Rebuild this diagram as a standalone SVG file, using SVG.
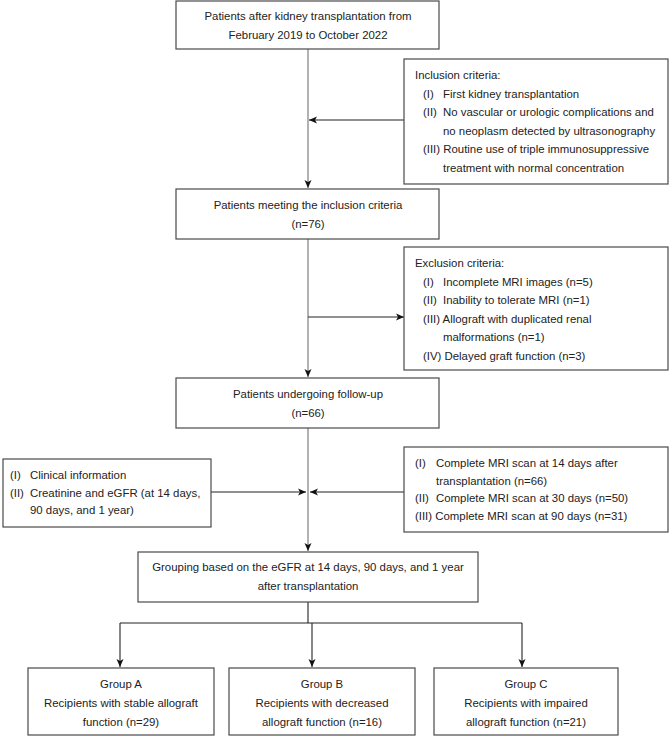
<svg xmlns="http://www.w3.org/2000/svg" width="672" height="738" viewBox="0 0 672 738">
<defs>
<marker id="ah" markerWidth="8" markerHeight="8" refX="8" refY="4" orient="auto" markerUnits="userSpaceOnUse">
<path d="M0,0.5 L8,4 L0,7.5 L2,4 Z" fill="#111"/>
</marker>
</defs>
<style>
.box{fill:#fff;stroke:#4a4a4a;stroke-width:1.2}
text{font-family:"Liberation Sans",Arial,sans-serif;font-size:11.4px;fill:#222}
.c{text-anchor:middle}
.trunk{stroke:#999;stroke-width:1.5;fill:none}
.blk{stroke:#222;stroke-width:1.1;fill:none}
</style>
<rect width="672" height="738" fill="#fff"/>
<g id="connectors">
<line class="trunk" x1="308" y1="49" x2="308" y2="188" marker-end="url(#ah)"/>
<line class="blk" x1="404" y1="120" x2="309" y2="120" marker-end="url(#ah)"/>
<line class="trunk" x1="308" y1="239" x2="308" y2="377" marker-end="url(#ah)"/>
<line class="blk" x1="308" y1="317" x2="404" y2="317" marker-end="url(#ah)"/>
<line class="trunk" x1="308" y1="428" x2="308" y2="551" marker-end="url(#ah)"/>
<line class="blk" x1="211" y1="492" x2="306" y2="492" marker-end="url(#ah)"/>
<line class="blk" x1="404" y1="492" x2="310" y2="492" marker-end="url(#ah)"/>
<polyline class="blk" points="308,602 308,623"/>
<line class="blk" x1="120" y1="623" x2="522" y2="623"/>
<line class="blk" x1="120" y1="623" x2="120" y2="667" marker-end="url(#ah)"/>
<line class="blk" x1="312" y1="623" x2="312" y2="667" marker-end="url(#ah)"/>
<line class="blk" x1="522" y1="623" x2="522" y2="667" marker-end="url(#ah)"/>
</g>
<g id="start">
<rect class="box" x="176" y="1" width="263" height="48"/>
<text class="c" x="308" y="20">Patients after kidney transplantation from</text>
<text class="c" x="308" y="39">February 2019 to October 2022</text>
</g>
<g id="inclusion">
<rect class="box" x="404" y="59" width="264" height="125"/>
<text x="415" y="79">Inclusion criteria:</text>
<text x="423" y="97.5">(I)</text><text x="443" y="97.5">First kidney transplantation</text>
<text x="423" y="116">(II)</text><text x="443" y="116">No vascular or urologic complications and</text>
<text x="443" y="134.5">no neoplasm detected by ultrasonography</text>
<text x="423" y="153">(III) Routine use of triple immunosuppressive</text>
<text x="443" y="171.5">treatment with normal concentration</text>
</g>
<g id="included">
<rect class="box" x="176" y="189" width="263" height="50"/>
<text class="c" x="308" y="209">Patients meeting the inclusion criteria</text>
<text class="c" x="308" y="228">(n=76)</text>
</g>
<g id="exclusion">
<rect class="box" x="404" y="247" width="264" height="123"/>
<text x="415" y="267">Exclusion criteria:</text>
<text x="423" y="285.5">(I)</text><text x="443" y="285.5">Incomplete MRI images (n=5)</text>
<text x="423" y="304">(II)</text><text x="443" y="304">Inability to tolerate MRI (n=1)</text>
<text x="423" y="322.5">(III) Allograft with duplicated renal</text>
<text x="443" y="341">malformations (n=1)</text>
<text x="423" y="359.5">(IV) Delayed graft function (n=3)</text>
</g>
<g id="followup">
<rect class="box" x="176" y="378" width="263" height="50"/>
<text class="c" x="308" y="398">Patients undergoing follow-up</text>
<text class="c" x="308" y="417">(n=66)</text>
</g>
<g id="clinical">
<rect class="box" x="3" y="459" width="208" height="68"/>
<text x="10" y="479">(I)</text><text x="30" y="479">Clinical information</text>
<text x="10" y="496.5">(II)</text><text x="30" y="496.5">Creatinine and eGFR (at 14 days,</text>
<text x="30" y="514">90 days, and 1 year)</text>
</g>
<g id="mri">
<rect class="box" x="404" y="447" width="264" height="85"/>
<text x="415" y="467">(I)</text><text x="436" y="467">Complete MRI scan at 14 days after</text>
<text x="436" y="484.5">transplantation (n=66)</text>
<text x="415" y="502">(II)</text><text x="436" y="502">Complete MRI scan at 30 days (n=50)</text>
<text x="415" y="519.5">(III) Complete MRI scan at 90 days (n=31)</text>
</g>
<g id="grouping">
<rect class="box" x="138" y="552" width="340" height="50"/>
<text class="c" x="308" y="571">Grouping based on the eGFR at 14 days, 90 days, and 1 year</text>
<text class="c" x="308" y="590">after transplantation</text>
</g>
<g id="groupA">
<rect class="box" x="28" y="668" width="186" height="67"/>
<text class="c" x="121" y="688">Group A</text>
<text class="c" x="121" y="707">Recipients with stable allograft</text>
<text class="c" x="121" y="726">function (n=29)</text>
</g>
<g id="groupB">
<rect class="box" x="229" y="668" width="186" height="67"/>
<text class="c" x="322" y="688">Group B</text>
<text class="c" x="322" y="707">Recipients with decreased</text>
<text class="c" x="322" y="726">allograft function (n=16)</text>
</g>
<g id="groupC">
<rect class="box" x="434" y="668" width="184" height="67"/>
<text class="c" x="526" y="688">Group C</text>
<text class="c" x="526" y="707">Recipients with impaired</text>
<text class="c" x="526" y="726">allograft function (n=21)</text>
</g>
</svg>
